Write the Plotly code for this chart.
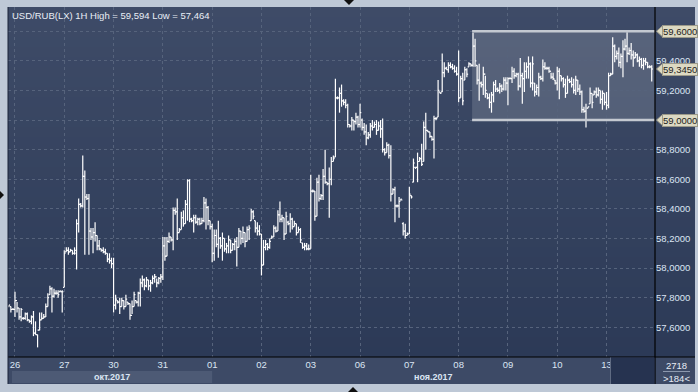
import plotly.graph_objects as go

# ---------------- data ----------------
TITLE = "USD/RUB(LX) 1H High = 59,594 Low = 57,464"
DAY_LABELS = ["26", "27", "30", "31", "01", "02", "03", "06", "07", "08", "09", "10", "13"]
MONTH_LABELS = ["окт.2017", "ноя.2017"]
BARS_PER_DAY = 24
FIRST_BAR = -3          # three late bars of the previous session before "26"

OPEN = [57.74, 57.74, 57.72,
    57.72, 57.78, 57.73, 57.67, 57.66, 57.66, 57.69, 57.65, 57.64, 57.67, 57.56, 57.55, 57.58, 57.65, 57.66, 57.67, 57.74, 57.82, 57.86, 57.81, 57.83, 57.83, 57.84, 57.84,
    57.87, 58.11, 58.12, 58.11, 58.12, 58.10, 58.10, 58.30, 58.43, 58.42, 58.62, 58.48, 58.47, 58.25, 58.21, 58.24, 58.22, 58.15, 58.13, 58.12, 58.11, 58.10, 58.06, 58.05,
    58.03, 57.75, 57.78, 57.77, 57.74, 57.78, 57.74, 57.77, 57.76, 57.68, 57.74, 57.78, 57.77, 57.83, 57.90, 57.92, 57.88, 57.92, 57.88, 57.90, 57.93, 57.94, 57.90, 57.93,
    57.94, 58.15, 58.08, 58.18, 58.21, 58.19, 58.39, 58.38, 58.24, 58.26, 58.34, 58.30, 58.43, 58.59, 58.33, 58.32, 58.34, 58.31, 58.33, 58.30, 58.32, 58.44, 58.41, 58.32,
    58.28, 58.10, 58.22, 58.16, 58.20, 58.15, 58.20, 58.13, 58.15, 58.19, 58.12, 58.16, 58.18, 58.14, 58.25, 58.20, 58.24, 58.18, 58.26, 58.32, 58.38, 58.32, 58.27, 58.25,
    58.23, 58.02, 58.14, 58.16, 58.14, 58.20, 58.21, 58.27, 58.25, 58.36, 58.33, 58.34, 58.23, 58.31, 58.30, 58.33, 58.28, 58.30, 58.24, 58.26, 58.17, 58.14, 58.15, 58.13,
    58.13, 58.52, 58.52, 58.35, 58.58, 58.47, 58.49, 58.62, 58.58, 58.57, 58.60, 58.72, 58.75, 59.15, 59.15, 59.18, 59.13, 59.12, 59.10, 58.97, 58.96, 59.00, 58.99, 59.02,
    58.97, 59.00, 58.95, 58.92, 58.88, 58.90, 58.96, 58.95, 58.97, 58.93, 58.96, 58.94, 58.80, 58.78, 58.83, 58.76, 58.50, 58.53, 58.42, 58.42, 58.46, 58.30, 58.25, 58.22,
    58.23, 58.49, 58.58, 58.68, 58.68, 58.72, 58.74, 58.72, 58.95, 58.93, 58.92, 58.89, 58.87, 59.01, 59.02, 59.19, 59.19, 59.32, 59.35, 59.34, 59.37, 59.36, 59.35, 59.33,
    59.31, 59.15, 59.28, 59.27, 59.34, 59.36, 59.38, 59.37, 59.50, 59.37, 59.27, 59.25, 59.24, 59.31, 59.18, 59.15, 59.12, 59.17, 59.24, 59.21, 59.20, 59.23, 59.21, 59.27,
    59.25, 59.28, 59.28, 59.33, 59.30, 59.31, 59.23, 59.30, 59.28, 59.33, 59.36, 59.38, 59.25, 59.25, 59.19, 59.22, 59.29, 59.28, 59.36, 59.35, 59.35, 59.33, 59.29, 59.27,
    59.25, 59.33, 59.30, 59.28, 59.24, 59.18, 59.27, 59.26, 59.24, 59.20, 59.27, 59.21, 59.19, 59.07, 59.06, 59.08, 59.11, 59.18, 59.17, 59.19, 59.17, 59.20, 59.14, 59.18,
    59.12, 59.10, 59.30, 59.31, 59.50, 59.43, 59.45, 59.39, 59.43, 59.48, 59.50, 59.45, 59.47, 59.44, 59.42, 59.44, 59.40, 59.41, 59.37, 59.40, 59.39, 59.36, 59.36]

HIGH = [57.75, 57.74, 57.73,
    57.84, 57.77, 57.73, 57.73, 57.67, 57.70, 57.70, 57.65, 57.68, 57.71, 57.64, 57.55, 57.70, 57.70, 57.69, 57.76, 57.83, 57.88, 57.87, 57.86, 57.85, 57.85, 57.85, 57.85,
    58.12, 58.14, 58.14, 58.13, 58.12, 58.14, 58.33, 58.47, 58.44, 58.76, 58.66, 58.50, 58.50, 58.27, 58.27, 58.31, 58.22, 58.19, 58.13, 58.14, 58.13, 58.10, 58.10, 58.07,
    58.07, 57.82, 57.78, 57.80, 57.80, 57.78, 57.82, 57.77, 57.76, 57.78, 57.84, 57.78, 57.84, 57.93, 57.95, 57.93, 57.94, 57.92, 57.92, 57.95, 57.96, 57.93, 57.94, 57.96,
    58.21, 58.21, 58.21, 58.24, 58.21, 58.41, 58.41, 58.47, 58.27, 58.38, 58.39, 58.46, 58.60, 58.60, 58.34, 58.36, 58.36, 58.34, 58.34, 58.34, 58.48, 58.47, 58.42, 58.32,
    58.30, 58.26, 58.26, 58.32, 58.21, 58.24, 58.20, 58.17, 58.22, 58.19, 58.17, 58.20, 58.21, 58.27, 58.25, 58.28, 58.24, 58.28, 58.29, 58.40, 58.39, 58.32, 58.31, 58.29,
    58.23, 58.19, 58.19, 58.17, 58.20, 58.22, 58.29, 58.28, 58.39, 58.45, 58.36, 58.34, 58.38, 58.32, 58.37, 58.34, 58.32, 58.30, 58.28, 58.27, 58.17, 58.17, 58.17, 58.16,
    58.63, 58.53, 58.52, 58.61, 58.63, 58.50, 58.67, 58.80, 58.58, 58.68, 58.75, 58.76, 59.28, 59.16, 59.22, 59.24, 59.14, 59.14, 59.11, 58.97, 59.02, 59.00, 59.05, 59.03,
    59.11, 59.01, 58.98, 58.97, 58.92, 58.98, 59.00, 58.99, 59.00, 58.99, 59.00, 59.01, 58.81, 58.85, 58.84, 58.83, 58.54, 58.55, 58.43, 58.48, 58.47, 58.31, 58.30, 58.24,
    58.55, 58.49, 58.74, 58.68, 58.78, 58.75, 58.84, 58.99, 59.05, 58.93, 58.92, 58.89, 59.03, 59.02, 59.27, 59.19, 59.45, 59.39, 59.36, 59.39, 59.39, 59.38, 59.37, 59.36,
    59.47, 59.30, 59.32, 59.36, 59.35, 59.39, 59.38, 59.59, 59.55, 59.37, 59.38, 59.26, 59.36, 59.30, 59.18, 59.18, 59.19, 59.26, 59.27, 59.22, 59.25, 59.24, 59.29, 59.29,
    59.29, 59.29, 59.36, 59.35, 59.32, 59.32, 59.42, 59.32, 59.39, 59.39, 59.43, 59.39, 59.43, 59.25, 59.24, 59.32, 59.30, 59.41, 59.39, 59.36, 59.36, 59.32, 59.32, 59.27,
    59.36, 59.35, 59.30, 59.29, 59.28, 59.30, 59.28, 59.29, 59.28, 59.30, 59.27, 59.24, 59.20, 59.09, 59.11, 59.09, 59.22, 59.18, 59.20, 59.22, 59.22, 59.20, 59.20, 59.18,
    59.19, 59.32, 59.32, 59.56, 59.51, 59.47, 59.49, 59.45, 59.54, 59.55, 59.594, 59.49, 59.52, 59.47, 59.46, 59.45, 59.43, 59.42, 59.42, 59.42, 59.39, 59.37, 59.37]

LOW = [57.74, 57.70, 57.72,
    57.67, 57.70, 57.65, 57.64, 57.65, 57.65, 57.64, 57.63, 57.62, 57.54, 57.55, 57.464, 57.58, 57.65, 57.66, 57.67, 57.74, 57.82, 57.70, 57.80, 57.82, 57.80, 57.84, 57.70,
    57.87, 58.11, 58.09, 58.11, 58.09, 58.09, 57.99, 58.24, 58.41, 58.41, 58.09, 58.46, 58.09, 58.19, 58.10, 58.18, 58.12, 58.12, 58.11, 58.10, 58.09, 58.04, 58.03, 58.00,
    57.70, 57.72, 57.76, 57.69, 57.74, 57.72, 57.74, 57.75, 57.65, 57.69, 57.74, 57.76, 57.74, 57.74, 57.87, 57.85, 57.87, 57.85, 57.84, 57.89, 57.90, 57.87, 57.89, 57.90,
    57.92, 58.05, 58.08, 58.17, 58.18, 58.12, 58.36, 58.19, 58.24, 58.26, 58.28, 58.30, 58.32, 58.31, 58.31, 58.24, 58.30, 58.29, 58.29, 58.30, 58.31, 58.26, 58.29, 58.26,
    58.04, 58.05, 58.14, 58.07, 58.13, 58.05, 58.11, 58.10, 58.10, 58.10, 58.12, 58.12, 58.01, 58.14, 58.16, 58.17, 58.14, 58.18, 58.19, 58.32, 58.33, 58.24, 58.22, 58.22,
    57.95, 58.02, 58.12, 58.12, 58.13, 58.20, 58.21, 58.24, 58.25, 58.31, 58.31, 58.19, 58.23, 58.29, 58.24, 58.26, 58.28, 58.22, 58.24, 58.17, 58.13, 58.12, 58.12, 58.12,
    58.13, 58.51, 58.32, 58.35, 58.45, 58.46, 58.46, 58.57, 58.56, 58.34, 58.56, 58.72, 58.75, 59.14, 59.05, 59.09, 59.10, 59.08, 58.95, 58.95, 58.93, 58.93, 58.97, 58.95,
    58.95, 58.93, 58.90, 58.83, 58.87, 58.88, 58.93, 58.95, 58.90, 58.93, 58.88, 58.78, 58.76, 58.78, 58.74, 58.45, 58.50, 58.31, 58.41, 58.34, 58.46, 58.22, 58.20, 58.22,
    58.23, 58.47, 58.58, 58.67, 58.58, 58.72, 58.69, 58.72, 58.80, 58.92, 58.88, 58.86, 58.74, 59.00, 59.02, 59.18, 59.19, 59.29, 59.34, 59.32, 59.35, 59.34, 59.32, 59.30,
    59.12, 59.15, 59.10, 59.27, 59.29, 59.36, 59.36, 59.36, 59.36, 59.24, 59.13, 59.22, 59.17, 59.15, 59.14, 59.08, 59.05, 59.12, 59.19, 59.19, 59.18, 59.19, 59.20, 59.20,
    59.10, 59.28, 59.25, 59.28, 59.29, 59.20, 59.22, 59.11, 59.19, 59.28, 59.28, 59.22, 59.20, 59.16, 59.17, 59.16, 59.27, 59.26, 59.34, 59.34, 59.32, 59.28, 59.27, 59.24,
    59.20, 59.14, 59.26, 59.22, 59.15, 59.18, 59.25, 59.22, 59.18, 59.17, 59.19, 59.17, 59.05, 59.05, 58.95, 59.08, 59.11, 59.08, 59.17, 59.15, 59.16, 59.11, 59.07, 59.10,
    59.07, 59.08, 59.30, 59.31, 59.39, 59.41, 59.36, 59.35, 59.29, 59.47, 59.39, 59.44, 59.41, 59.36, 59.42, 59.39, 59.36, 59.35, 59.34, 59.37, 59.35, 59.35, 59.26]

CLOSE = [57.75, 57.72, 57.72,
    57.78, 57.73, 57.67, 57.72, 57.66, 57.69, 57.65, 57.64, 57.67, 57.56, 57.55, 57.58, 57.65, 57.66, 57.67, 57.74, 57.80, 57.86, 57.81, 57.83, 57.83, 57.82, 57.84, 57.84,
    58.10, 58.12, 58.11, 58.12, 58.10, 58.12, 58.30, 58.43, 58.42, 58.62, 58.48, 58.47, 58.25, 58.21, 58.24, 58.22, 58.15, 58.13, 58.12, 58.11, 58.10, 58.06, 58.05, 58.03,
    57.75, 57.79, 57.77, 57.74, 57.78, 57.74, 57.79, 57.76, 57.68, 57.74, 57.82, 57.77, 57.83, 57.90, 57.92, 57.88, 57.92, 57.88, 57.90, 57.93, 57.94, 57.90, 57.93, 57.94,
    58.15, 58.08, 58.18, 58.21, 58.19, 58.39, 58.38, 58.24, 58.26, 58.34, 58.30, 58.43, 58.59, 58.33, 58.32, 58.34, 58.31, 58.33, 58.30, 58.32, 58.44, 58.41, 58.32, 58.28,
    58.10, 58.22, 58.16, 58.20, 58.15, 58.20, 58.13, 58.15, 58.19, 58.12, 58.16, 58.18, 58.14, 58.25, 58.20, 58.24, 58.18, 58.26, 58.27, 58.38, 58.35, 58.27, 58.25, 58.23,
    58.02, 58.14, 58.16, 58.14, 58.18, 58.21, 58.27, 58.25, 58.36, 58.33, 58.34, 58.23, 58.35, 58.30, 58.33, 58.28, 58.30, 58.24, 58.26, 58.19, 58.14, 58.15, 58.13, 58.13,
    58.52, 58.52, 58.35, 58.58, 58.47, 58.49, 58.62, 58.58, 58.57, 58.60, 58.72, 58.74, 59.15, 59.15, 59.18, 59.13, 59.12, 59.10, 58.97, 58.96, 59.00, 58.99, 59.02, 58.97,
    59.05, 58.95, 58.92, 58.88, 58.90, 58.96, 58.95, 58.97, 58.93, 58.96, 58.94, 58.80, 58.78, 58.83, 58.76, 58.50, 58.53, 58.42, 58.42, 58.45, 58.46, 58.25, 58.22, 58.23,
    58.50, 58.48, 58.71, 58.68, 58.72, 58.74, 58.70, 58.95, 58.93, 58.92, 58.89, 58.87, 59.01, 59.01, 59.20, 59.18, 59.32, 59.35, 59.34, 59.37, 59.36, 59.35, 59.33, 59.31,
    59.15, 59.28, 59.13, 59.34, 59.31, 59.38, 59.37, 59.50, 59.40, 59.27, 59.25, 59.24, 59.31, 59.20, 59.15, 59.12, 59.17, 59.24, 59.21, 59.20, 59.23, 59.21, 59.27, 59.25,
    59.28, 59.28, 59.33, 59.30, 59.31, 59.23, 59.30, 59.28, 59.33, 59.36, 59.38, 59.25, 59.38, 59.19, 59.22, 59.29, 59.28, 59.36, 59.35, 59.35, 59.33, 59.29, 59.28, 59.25,
    59.33, 59.30, 59.28, 59.24, 59.18, 59.27, 59.26, 59.24, 59.20, 59.27, 59.21, 59.19, 59.07, 59.06, 59.00, 59.09, 59.18, 59.12, 59.19, 59.17, 59.20, 59.14, 59.18, 59.12,
    59.10, 59.30, 59.31, 59.50, 59.43, 59.45, 59.39, 59.43, 59.48, 59.50, 59.45, 59.47, 59.44, 59.42, 59.44, 59.40, 59.41, 59.37, 59.40, 59.39, 59.36, 59.36, 59.345]

Y_TICKS = [57.6, 57.8, 58.0, 58.2, 58.4, 58.6, 58.8, 59.0, 59.2, 59.4, 59.6]
Y_TICK_LABELS = ["57,6000", "57,8000", "58,0000", "58,2000", "58,4000", "58,6000",
                 "58,8000", "59,0000", "59,2000", "59,4000", "59,6000"]
MARKED_LEVELS = [59.6, 59.345, 59.0]
MARKED_LABELS = ["59,6000", "59,3450", "59,0000"]
RANGE_BOX = (59.0, 59.6)
RANGE_BOX_START_BAR = 223
FOOT_TOP, FOOT_BOTTOM = "2718", ">184<"

# ---------------- layout geometry / styles ----------------
W, H = 698, 392
L, R, T, B = 8, 43, 7, 35
PW, PH = W - L - R, H - T - B
XMIN, XMAX = FIRST_BAR - 0.4, FIRST_BAR + len(OPEN) + 0.6
YMIN, YMAX = 57.399, 59.764
FONT = "Liberation Sans, Arial, sans-serif"
TXT = "#dbe5f3"


def px(xp):
    return (xp - L) / PW


def py(yp):
    return (T + PH - yp) / PH


def bar_to_paper(i):
    return (i - XMIN) / (XMAX - XMIN)


y_per_px = (YMAX - YMIN) / PH

# tick texts hidden where a boxed level label sits on top of them
shown_tick_labels = ["" if v in MARKED_LEVELS else t for v, t in zip(Y_TICKS, Y_TICK_LABELS)]

# ---------------- bars ----------------
TW = 0.62
xs, ys = [], []
for k, (o, h, l, c) in enumerate(zip(OPEN, HIGH, LOW, CLOSE)):
    x = FIRST_BAR + k
    xs += [x, x, None, x - TW, x, None, x, x + TW, None]
    ys += [l, h, None, o, o, None, c, c, None]

fig = go.Figure()
fig.add_trace(go.Scatter(x=xs, y=ys, mode="lines",
                         line=dict(color="#ffffff", width=1.2),
                         hoverinfo="skip", showlegend=False))

shapes = []
# vertical gradient background (plot + right panel)
NB = 35
top_c, bot_c = (62, 75, 103), (44, 58, 87)
for b in range(NB):
    f = b / (NB - 1)
    col = tuple(int(round(top_c[j] + (bot_c[j] - top_c[j]) * f)) for j in range(3))
    shapes.append(dict(type="rect", xref="paper", yref="paper", layer="below",
                       x0=0, x1=px(695), y0=1 - (b + 1) / NB, y1=1 - b / NB,
                       fillcolor="rgb(%d,%d,%d)" % col, line=dict(width=0)))
# bottom axis panel
shapes.append(dict(type="rect", xref="paper", yref="paper", layer="below",
                   x0=0, x1=px(695), y0=py(384), y1=0,
                   fillcolor="#3d4a66", line=dict(width=0)))
# october band
shapes.append(dict(type="rect", xref="paper", yref="paper", layer="below",
                   x0=px(12), x1=bar_to_paper(4 * BARS_PER_DAY), y0=py(383), y1=py(371),
                   fillcolor="#4d5a75", line=dict(width=0)))
# range box
shapes.append(dict(type="rect", xref="x", yref="y", layer="below",
                   x0=RANGE_BOX_START_BAR - 0.45, x1=XMAX, y0=RANGE_BOX[0], y1=RANGE_BOX[1],
                   fillcolor="rgba(255,255,255,0.14)", line=dict(width=0)))
for lev in RANGE_BOX:
    shapes.append(dict(type="line", xref="x", yref="y", layer="above",
                       x0=RANGE_BOX_START_BAR - 0.45, x1=XMAX, y0=lev, y1=lev,
                       line=dict(color="#c4c9d1", width=2.5)))
# separators
shapes.append(dict(type="line", xref="paper", yref="paper", x0=1, x1=1, y0=py(384), y1=py(7),
                   line=dict(color="#000000", width=1.2)))
shapes.append(dict(type="line", xref="paper", yref="paper", x0=0, x1=px(695), y0=0, y1=0,
                   line=dict(color="#000000", width=1.2)))
shapes.append(dict(type="line", xref="paper", yref="paper", x0=0, x1=0, y0=py(384), y1=py(7),
                   line=dict(color="#1b2338", width=1)))
# dark scroll block bottom right
shapes.append(dict(type="rect", xref="paper", yref="paper", layer="above",
                   x0=px(610), x1=px(654.5), y0=py(384), y1=py(357.6),
                   fillcolor="#263350", line=dict(width=0)))
shapes.append(dict(type="line", xref="paper", yref="paper", layer="above",
                   x0=px(610.5), x1=px(610.5), y0=py(384), y1=py(357.6),
                   line=dict(color="#5f6b82", width=1)))
# footer separator
shapes.append(dict(type="line", xref="paper", yref="paper",
                   x0=px(663), x1=px(690), y0=py(371.5), y1=py(371.5),
                   line=dict(color="#8c98ae", width=1)))
# frame triangles
tri = [((344, 0), (354, 0), (349, 5)),
       ((348, 392), (358, 392), (353, 387)),
       ((0, 191), (0, 199), (4, 195))]
for a, b_, c in tri:
    shapes.append(dict(type="path", xref="paper", yref="paper",
                       path="M %f,%f L %f,%f L %f,%f Z" % (px(a[0]), py(a[1]), px(b_[0]), py(b_[1]), px(c[0]), py(c[1])),
                       fillcolor="#101010", line=dict(width=0)))
# arrows of marked level labels
for lev in MARKED_LEVELS:
    hh = 5.5 * y_per_px
    shapes.append(dict(type="path", xref="paper", yref="y",
                       path="M %f,%f L %f,%f L %f,%f Z" % (px(656.5), lev, px(662.5), lev + hh, px(662.5), lev - hh),
                       fillcolor="#dcd9c2", line=dict(color="#9c9a8a", width=1)))

annotations = [
    dict(text=TITLE, xref="paper", yref="paper", x=px(10), y=py(15), xanchor="left", yanchor="middle",
         showarrow=False, font=dict(family=FONT, size=9.5, color="#e9eef6")),
    dict(text=FOOT_TOP, xref="paper", yref="paper", x=px(676), y=py(365), xanchor="center", yanchor="middle",
         showarrow=False, font=dict(family=FONT, size=9.5, color="#e6ecf5")),
    dict(text=FOOT_BOTTOM, xref="paper", yref="paper", x=px(676), y=py(378.5), xanchor="center", yanchor="middle",
         showarrow=False, font=dict(family=FONT, size=9.5, color="#e6ecf5")),
]
month_spans = [(px(12), bar_to_paper(4 * BARS_PER_DAY)), (bar_to_paper(4 * BARS_PER_DAY), 1.0)]
for lab, (a, b_) in zip(MONTH_LABELS, month_spans):
    annotations.append(dict(text="<b>%s</b>" % lab, xref="paper", yref="paper", x=(a + b_) / 2, y=py(377),
                            xanchor="center", yanchor="middle", showarrow=False,
                            font=dict(family=FONT, size=9, color="#dbe5f3")))
for lev, lab in zip(MARKED_LEVELS, MARKED_LABELS):
    annotations.append(dict(text=lab, xref="paper", yref="y", x=px(662), y=lev, xanchor="left", yanchor="middle",
                            showarrow=False, bgcolor="#dcd9c2", bordercolor="#9c9a8a", borderwidth=1, borderpad=0,
                            font=dict(family=FONT, size=9.5, color="#1c1c1c")))

day_starts = [i * BARS_PER_DAY for i in range(len(DAY_LABELS))]

fig.update_layout(
    width=W, height=H, margin=dict(l=L, r=R, t=T, b=B, pad=0),
    paper_bgcolor="#bec8d6", plot_bgcolor="rgba(0,0,0,0)",
    shapes=shapes, annotations=annotations, showlegend=False,
    xaxis=dict(range=[XMIN, XMAX], tickmode="array", tickvals=day_starts, ticktext=DAY_LABELS,
               showgrid=True, gridcolor="#56637c", griddash="3px,3px", gridwidth=1,
               zeroline=False, showline=False, ticks="", fixedrange=True,
               tickfont=dict(family=FONT, size=9.5, color=TXT)),
    yaxis=dict(range=[YMIN, YMAX], side="right", tickmode="array", tickvals=Y_TICKS, ticktext=shown_tick_labels,
               showgrid=True, gridcolor="#56637c", griddash="3px,3px", gridwidth=1,
               zeroline=False, showline=False, ticks="", fixedrange=True,
               tickfont=dict(family=FONT, size=9.5, color=TXT)),
)

fig.write_html("out.html")
